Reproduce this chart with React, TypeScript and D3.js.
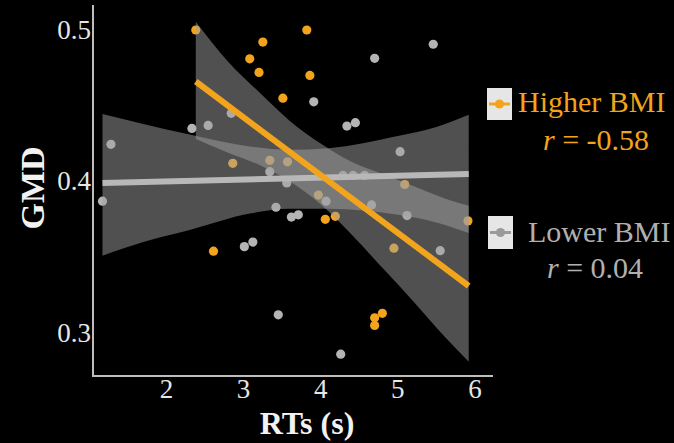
import React from 'react';
import * as d3 from 'd3';

// scatter values
const higherX = [2.38, 3.25, 3.08, 3.2, 3.51, 2.86, 3.34, 3.57, 3.82, 3.86, 4.06, 4.19, 5.09, 3.97, 5.91, 4.95, 4.8, 4.7, 4.7, 2.61];
const higherY = [0.5, 0.492, 0.481, 0.472, 0.455, 0.412, 0.414, 0.413, 0.5, 0.47, 0.375, 0.377, 0.398, 0.391, 0.374, 0.356, 0.313, 0.31, 0.305, 0.354];

const lowerX = [1.17, 1.28, 2.33, 2.54, 2.84, 3.01, 3.12, 3.34, 3.42, 3.45, 3.56, 3.62, 3.71, 3.91, 4.07, 4.26, 4.29, 4.34, 4.42, 4.45, 4.57, 4.66, 4.7, 5.03, 5.12, 5.46, 5.55];
const lowerY = [0.387, 0.4245, 0.435, 0.437, 0.445, 0.357, 0.36, 0.4065, 0.383, 0.312, 0.399, 0.3765, 0.378, 0.4526, 0.387, 0.286, 0.404, 0.4366, 0.404, 0.4388, 0.404, 0.3845, 0.4813, 0.4197, 0.3775, 0.4906, 0.3543];

// fitted lines (end points)
const higherFitX = [2.38, 5.92];
const higherFitY = [0.466, 0.331];
const lowerFitX = [1.17, 5.92];
const lowerFitY = [0.399, 0.405];

// confidence bands
const higherBandX = [2.38, 2.8, 3.2, 3.6, 4.0, 4.4, 4.8, 5.2, 5.6, 5.92];
const higherBandLo = [0.428, 0.419, 0.411, 0.4, 0.385, 0.365, 0.343, 0.321, 0.298, 0.281];
const higherBandHi = [0.5055, 0.479, 0.459, 0.44, 0.425, 0.413, 0.405, 0.397, 0.389, 0.384];

const lowerBandX = [1.17, 1.7, 2.3, 3.1, 3.6, 4.1, 5.0, 5.5, 5.92];
const lowerBandLo = [0.351, 0.36, 0.368, 0.379, 0.382, 0.382, 0.378, 0.373, 0.366];
const lowerBandHi = [0.4446, 0.438, 0.431, 0.423, 0.421, 0.422, 0.43, 0.436, 0.444];

const xTicks = [2, 3, 4, 5, 6];
const yTicks = [0.3, 0.4, 0.5];

const ORANGE = '#f2a41c';
const GREY = '#b4b4b4';
const FONT = '"Liberation Serif", "Times New Roman", serif';

export default function App() {
  const width = 674;
  const height = 443;

  const x = d3.scaleLinear().domain([1.047, 6.235]).range([93, 493]);
  const y = d3.scaleLinear().domain([0.2716, 0.5165]).range([376, 5]);

  const band = (xs: number[], lo: number[], hi: number[]) =>
    d3.area<number>()
      .x(d => x(xs[d]))
      .y0(d => y(lo[d]))
      .y1(d => y(hi[d]))
      .curve(d3.curveMonotoneX)(d3.range(xs.length)) || '';

  const fit = (xs: number[], ys: number[]) =>
    d3.line<number>()
      .x(d => x(xs[d]))
      .y(d => y(ys[d]))(d3.range(xs.length)) || '';

  return (
    <svg width={width} height={height}
      style={{ position: 'absolute', left: 0, top: 0, background: '#000' }}
      fontFamily={FONT}>
      <rect width={width} height={height} fill="#000" />

      {/* points */}
      {lowerX.map((d, i) => (
        <circle key={'l' + i} cx={x(d)} cy={y(lowerY[i])} r={4.6} fill={GREY} />
      ))}
      {higherX.map((d, i) => (
        <circle key={'h' + i} cx={x(d)} cy={y(higherY[i])} r={4.6} fill={ORANGE} />
      ))}

      {/* bands */}
      <path d={band(lowerBandX, lowerBandLo, lowerBandHi)} fill="#a0a0a0" fillOpacity={0.5} />
      <path d={band(higherBandX, higherBandLo, higherBandHi)} fill="#a0a0a0" fillOpacity={0.5} />

      {/* fits */}
      <path d={fit(lowerFitX, lowerFitY)} stroke="#b8b8b8" strokeWidth={6} fill="none" />
      <path d={fit(higherFitX, higherFitY)} stroke={ORANGE} strokeWidth={6} fill="none" />

      {/* axes */}
      <line x1={93} x2={93} y1={5} y2={377} stroke="#bdbdbd" strokeWidth={2} />
      <line x1={92} x2={493} y1={376} y2={376} stroke="#bdbdbd" strokeWidth={2} />

      {yTicks.map(t => (
        <text key={t} x={91} y={y(t)} dy="0.33em" textAnchor="end" fill="#e6e6e6" fontSize={27}>
          {t.toFixed(1)}
        </text>
      ))}
      {xTicks.map(t => (
        <text key={t} x={x(t)} y={398} textAnchor="middle" fill="#e6e6e6" fontSize={27}>
          {t}
        </text>
      ))}

      <text x={307} y={434} textAnchor="middle" fill="#f2f2f2" fontSize={32} fontWeight="bold">RTs (s)</text>
      <text transform="translate(44,188) rotate(-90)" textAnchor="middle" fill="#f2f2f2" fontSize={34} fontWeight="bold">GMD</text>

      {/* legend */}
      <rect x={487} y={88} width={25} height={32} fill="#e6e6e6" />
      <line x1={489} x2={510} y1={104} y2={104} stroke={ORANGE} strokeWidth={3} />
      <circle cx={499.5} cy={104} r={4.6} fill={ORANGE} />
      <text x={518} y={112} fill={ORANGE} fontSize={30}>Higher BMI</text>
      <text x={596} y={150} textAnchor="middle" fill={ORANGE} fontSize={30}>
        <tspan fontStyle="italic">r</tspan> = -0.58
      </text>

      <rect x={488} y={216} width={25} height={33} fill="#e6e6e6" />
      <line x1={490} x2={511} y1={232.5} y2={232.5} stroke="#9a9a9a" strokeWidth={3} />
      <circle cx={500.5} cy={232.5} r={4.6} fill="#9a9a9a" />
      <text x={528} y={242} fill="#b0b0b0" fontSize={30}>Lower BMI</text>
      <text x={595} y={278} textAnchor="middle" fill="#b0b0b0" fontSize={30}>
        <tspan fontStyle="italic">r</tspan> = 0.04
      </text>
    </svg>
  );
}
